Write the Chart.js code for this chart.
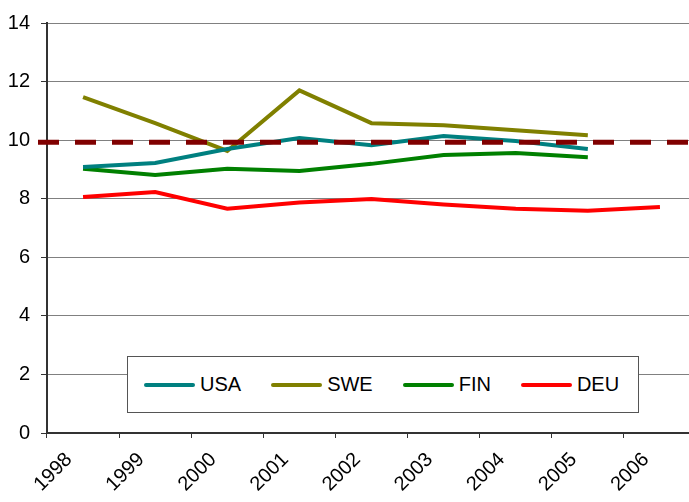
<!DOCTYPE html>
<html>
<head>
<meta charset="utf-8">
<script src="https://cdn.jsdelivr.net/npm/chart.js@4.4.1/dist/chart.umd.min.js"></script>
<style>
  html, body { margin: 0; padding: 0; background: #fff; overflow: hidden; }
  #wrap { position: relative; width: 696px; height: 502px; }
  #legend {
    position: absolute; left: 127px; top: 356px; width: 494px; height: 55px;
    border: 1px solid #555; background: #fff;
    display: flex; align-items: center; padding-left: 16px; box-sizing: content-box;
    font-family: "Liberation Sans", Arial, sans-serif; font-size: 20px; color: #000;
  }
  #legend .item { display: flex; align-items: center; margin-right: 30px; }
  #legend .swatch { width: 51px; height: 4px; border-radius: 2px; margin-right: 5px; }
</style>
</head>
<body>
<div id="wrap">
  <canvas id="chart" width="696" height="502"></canvas>
  <div id="legend"></div>
</div>
<script>
const years = ['1998', '1999', '2000', '2001', '2002', '2003', '2004', '2005', '2006'];
const usa = [9.08, 9.22, 9.70, 10.07, 9.83, 10.14, 9.97, 9.70, null];
const swe = [11.47, 10.58, 9.63, 11.70, 10.58, 10.51, 10.34, 10.17, null];
const fin = [9.02, 8.81, 9.02, 8.95, 9.19, 9.49, 9.56, 9.42, null];
const deu = [8.06, 8.23, 7.66, 7.87, 7.99, 7.80, 7.66, 7.59, 7.72];
const reference = 9.93;
const yTicks = [0, 2, 4, 6, 8, 10, 12, 14];

const series = [
  { label: 'USA', data: usa, color: '#008080' },
  { label: 'SWE', data: swe, color: '#808000' },
  { label: 'FIN', data: fin, color: '#008000' },
  { label: 'DEU', data: deu, color: '#FF0000' }
];

const font = { family: '"Liberation Sans", Arial, sans-serif', size: 20 };

// dashed reference line across the whole plot
const refLine = {
  id: 'refLine',
  afterDatasetsDraw(chart) {
    const { ctx, chartArea } = chart;
    const y = chart.scales.y.getPixelForValue(reference);
    ctx.save();
    ctx.strokeStyle = '#800000';
    ctx.lineWidth = 5;
    ctx.setLineDash([21, 16]);
    ctx.beginPath();
    ctx.moveTo(chartArea.left - 9, y);
    ctx.lineTo(chart.width, y);
    ctx.stroke();
    ctx.restore();
  }
};

new Chart(document.getElementById('chart').getContext('2d'), {
  type: 'line',
  data: {
    labels: years,
    datasets: series.map(s => ({
      label: s.label,
      data: s.data,
      borderColor: s.color,
      backgroundColor: s.color,
      borderWidth: 4,
      pointRadius: 0,
      tension: 0,
      fill: false
    }))
  },
  options: {
    responsive: false,
    animation: false,
    layout: { padding: { top: 22, left: 0, right: 0, bottom: 0 } },
    plugins: {
      legend: { display: false },
      tooltip: { enabled: false }
    },
    scales: {
      x: {
        offset: true,
        grid: { offset: true, drawOnChartArea: false, drawTicks: true, tickLength: 5, color: '#333', lineWidth: 1 },
        border: { color: '#333', width: 2 },
        ticks: {
          color: '#000', font: font, autoSkip: false,
          minRotation: 45, maxRotation: 45, padding: 10, labelOffset: -14
        },
        afterFit(scale) { scale.height = 69; }
      },
      y: {
        min: 0,
        max: 14,
        afterBuildTicks(scale) { scale.ticks = yTicks.map(v => ({ value: v })); },
        grid: { color: '#808080', lineWidth: 1, tickLength: 6, tickColor: '#333' },
        border: { color: '#333', width: 2 },
        ticks: { color: '#000', font: font, padding: 11 },
        afterFit(scale) { scale.width = 47; }
      }
    }
  },
  plugins: [refLine]
});

const legend = document.getElementById('legend');
series.forEach(s => {
  const item = document.createElement('div');
  item.className = 'item';
  const sw = document.createElement('span');
  sw.className = 'swatch';
  sw.style.background = s.color;
  const txt = document.createElement('span');
  txt.textContent = s.label;
  item.appendChild(sw);
  item.appendChild(txt);
  legend.appendChild(item);
});
</script>
</body>
</html>
